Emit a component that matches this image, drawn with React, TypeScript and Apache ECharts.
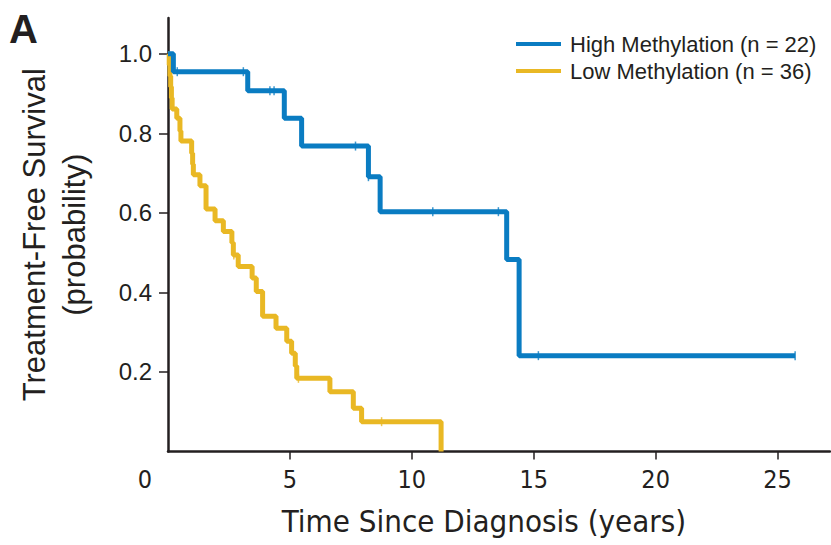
import React, { useEffect, useRef } from "react";
import * as echarts from "echarts";

// High methylation (n = 22): step times and survival after each step
const highTimes = [0, 0.22, 3.27, 4.77, 5.48, 8.22, 8.7, 13.89, 14.4, 25.72];
const highSurv = [1.0, 0.955, 0.907, 0.838, 0.768, 0.691, 0.603, 0.483, 0.241, 0.241];
const highCensorTimes = [0.38, 3.09, 4.18, 4.35, 7.69, 8.22, 10.86, 13.55, 15.19, 25.72];
const highCensorSurv = [0.955, 0.955, 0.907, 0.907, 0.768, 0.691, 0.603, 0.603, 0.241, 0.241];

// Low methylation (n = 36)
const lowTimes = [0, 0.05, 0.08, 0.11, 0.14, 0.17, 0.36, 0.49, 0.53, 0.97, 1.01, 1.04, 1.31, 1.56, 1.93, 2.27, 2.62, 2.68, 2.88, 3.45, 3.62, 3.88, 4.43, 4.87, 5.07, 5.22, 5.28, 6.64, 7.6, 7.94, 11.2];
const lowSurv = [1.0, 0.972, 0.944, 0.917, 0.889, 0.861, 0.838, 0.806, 0.781, 0.75, 0.722, 0.696, 0.668, 0.61, 0.58, 0.553, 0.525, 0.494, 0.465, 0.436, 0.402, 0.34, 0.31, 0.277, 0.247, 0.215, 0.184, 0.15, 0.109, 0.075, 0];
const lowCensorTimes = [2.7, 5.35, 8.76];
const lowCensorSurv = [0.494, 0.184, 0.075];

const seriesNames = ["High Methylation (n = 22)", "Low Methylation (n = 36)"];
const xTicks = [0, 5, 10, 15, 20, 25];
const yTicks = [0.2, 0.4, 0.6, 0.8, 1.0];

const BLUE = "#0a7cc2";
const YELLOW = "#e9b824";
const INK = "#231f20";
const SANS = "'Liberation Sans', Arial, Helvetica, sans-serif";
const NARROW = "'Liberation Sans Narrow', 'DejaVu Sans Condensed', 'Liberation Sans', sans-serif";

const zip = (a: number[], b: number[]) => a.map((v, i) => [v, b[i]]);
const isTick = (list: number[], v: number) => list.some((t) => Math.abs(t - v) < 1e-6);

export default function App() {
  const ref = useRef<HTMLDivElement>(null);
  useEffect(() => {
    if (!ref.current) return;
    const chart = echarts.init(ref.current, null, { renderer: "svg" });
    chart.setOption({
      animation: false,
      backgroundColor: "#ffffff",
      grid: { left: 168, right: 1, top: 18, bottom: 93.5, containLabel: false, outerBoundsMode: "none" },
      legend: {
        data: seriesNames,
        orient: "vertical",
        left: 516,
        top: 33,
        padding: 0,
        icon: "rect",
        itemWidth: 45,
        itemHeight: 4,
        itemGap: 5,
        textStyle: { fontFamily: SANS, fontSize: 22, color: INK, padding: [0, 0, 0, 4] },
      },
      graphic: [
        {
          type: "text",
          left: 9,
          top: 9,
          style: { text: "A", font: `bold 40px ${SANS}`, fill: INK },
        },
      ],
      xAxis: {
        type: "value",
        min: 0,
        max: 27.15,
        interval: 5,
        splitLine: { show: false },
        axisLine: { show: true, lineStyle: { color: INK, width: 2.5 } },
        axisTick: { show: true, length: 8, customValues: xTicks.slice(1), lineStyle: { color: INK, width: 1.5 } },
        axisLabel: {
          margin: 15,
          fontSize: 25,
          fontFamily: NARROW,
          color: INK,
          customValues: xTicks,
          formatter: (v: number) => (!isTick(xTicks, v) ? "" : v === 0 ? "{z|0}" : String(v)),
          rich: { z: { fontSize: 25, fontFamily: NARROW, color: INK, padding: [0, 46, 0, 0] } },
        },
        name: "Time Since Diagnosis (years)",
        nameLocation: "middle",
        nameGap: 54,
        nameTextStyle: { fontFamily: NARROW, fontSize: 31, color: INK, padding: [0, 30, 0, 0] },
      },
      yAxis: {
        type: "value",
        min: 0,
        max: 1.09,
        interval: 0.2,
        splitLine: { show: false },
        axisLine: { show: true, lineStyle: { color: INK, width: 2.5 } },
        axisTick: { show: true, length: 9, customValues: yTicks, lineStyle: { color: INK, width: 1.5 } },
        axisLabel: {
          margin: 16,
          fontSize: 24,
          fontFamily: SANS,
          color: INK,
          customValues: yTicks,
          formatter: (v: number) => (isTick(yTicks, v) ? v.toFixed(1) : ""),
        },
        name: "Treatment-Free Survival\n(probability)",
        nameLocation: "middle",
        nameGap: 74,
        nameTextStyle: { fontFamily: SANS, fontSize: 31, color: INK, lineHeight: 40 },
      },
      series: [
        {
          name: seriesNames[1],
          type: "line",
          step: "end",
          showSymbol: false,
          color: YELLOW,
          lineStyle: { color: YELLOW, width: 5 },
          data: zip(lowTimes, lowSurv),
        },
        {
          name: seriesNames[0],
          type: "line",
          step: "end",
          showSymbol: false,
          color: BLUE,
          lineStyle: { color: BLUE, width: 5 },
          data: zip(highTimes, highSurv),
        },
        {
          name: "low-censored",
          type: "scatter",
          symbol: "rect",
          symbolSize: [1.5, 9],
          itemStyle: { color: YELLOW },
          data: zip(lowCensorTimes, lowCensorSurv),
        },
        {
          name: "high-censored",
          type: "scatter",
          symbol: "rect",
          symbolSize: [1.5, 9],
          itemStyle: { color: BLUE },
          data: zip(highCensorTimes, highCensorSurv),
        },
      ],
    });
    return () => chart.dispose();
  }, []);
  return <div ref={ref} style={{ width: 831, height: 545, position: "absolute", left: 0, top: 0 }} />;
}
